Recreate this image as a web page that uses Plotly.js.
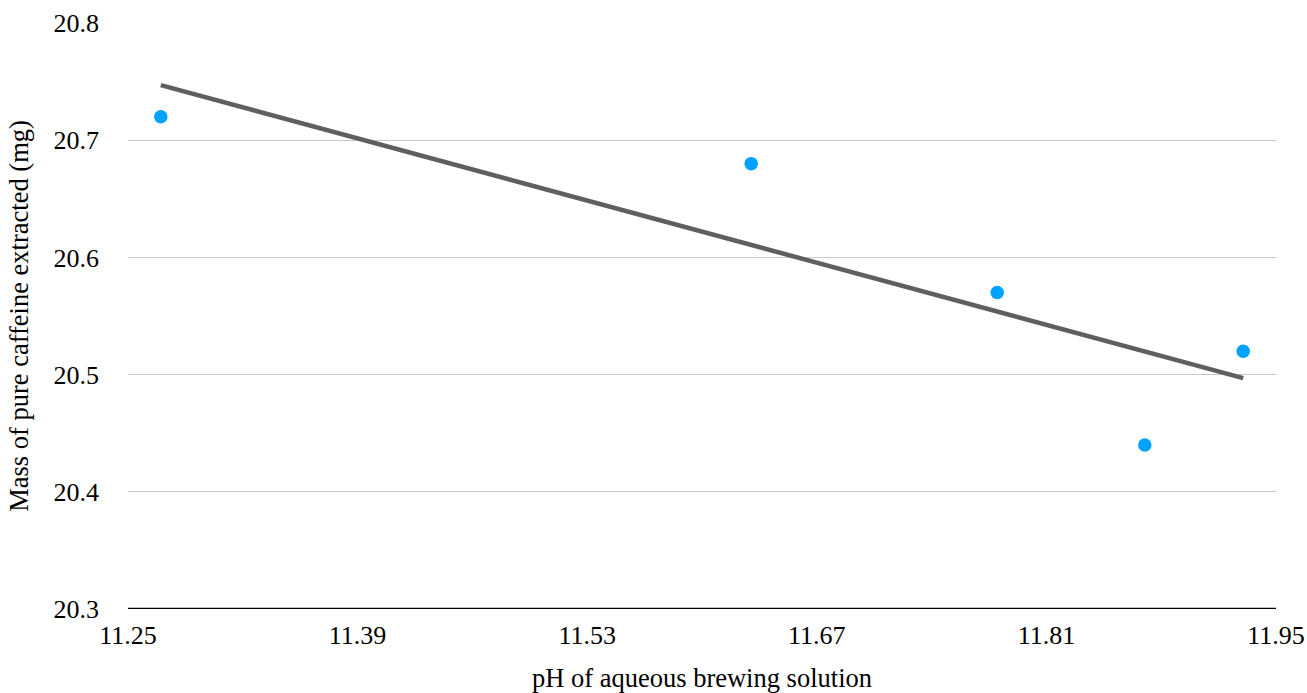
<!DOCTYPE html>
<html>
<head>
<meta charset="utf-8">
<script src="https://cdn.plot.ly/plotly-3.0.1.min.js"></script>
<style>html,body{margin:0;padding:0;background:#fff;}#chart{width:1307px;height:693px;}</style>
</head>
<body>
<div id="chart"></div>
<script>
const phValues = [11.27, 11.63, 11.78, 11.87, 11.93];
const caffeineMg = [20.72, 20.68, 20.57, 20.44, 20.52];
const trendX = [11.27, 11.93];
const trendY = [20.747, 20.497];
const xTicks = [11.25, 11.39, 11.53, 11.67, 11.81, 11.95];
const yTicks = [20.3, 20.4, 20.5, 20.6, 20.7, 20.8];

const font = {family: '"Liberation Serif", "Times New Roman", serif', size: 26, color: '#000'};
const titleFont = {family: '"Liberation Serif", "Times New Roman", serif', size: 26.5, color: '#000'};

const data = [
  {x: trendX, y: trendY, type: 'scatter', mode: 'lines',
   line: {color: '#5f5f5f', width: 4.5}, hoverinfo: 'skip', showlegend: false},
  {x: phValues, y: caffeineMg, type: 'scatter', mode: 'markers',
   marker: {color: '#00a2ff', size: 13.5}, showlegend: false}
];

const layout = {
  width: 1307, height: 693,
  margin: {l: 128, r: 31, t: 23, b: 84},
  paper_bgcolor: '#fff', plot_bgcolor: '#fff',
  font: font,
  showlegend: false,
  xaxis: {
    range: [11.25, 11.95], tickvals: xTicks, ticktext: xTicks.map(v => v.toFixed(2)),
    showgrid: false, zeroline: false, showline: false, ticks: '',
    ticklabelstandoff: 8,
    tickfont: font,
    title: {text: 'pH of aqueous brewing solution', font: titleFont, standoff: 20}
  },
  yaxis: {
    range: [20.3, 20.8], tickvals: yTicks, ticktext: yTicks.map(v => v.toFixed(1)),
    showgrid: true, gridcolor: '#c8c8c8', gridwidth: 1, zeroline: false, showline: false, ticks: '',
    ticklabelstandoff: 28,
    tickfont: font,
    title: {text: 'Mass of pure caffeine extracted (mg)', font: titleFont, standoff: 17}
  },
  shapes: [{type: 'line', xref: 'paper', yref: 'y', x0: 0, x1: 1, y0: 20.3, y1: 20.3,
            line: {color: '#000', width: 2.5}}]
};

Plotly.newPlot('chart', data, layout, {displayModeBar: false, staticPlot: true});
</script>
</body>
</html>
